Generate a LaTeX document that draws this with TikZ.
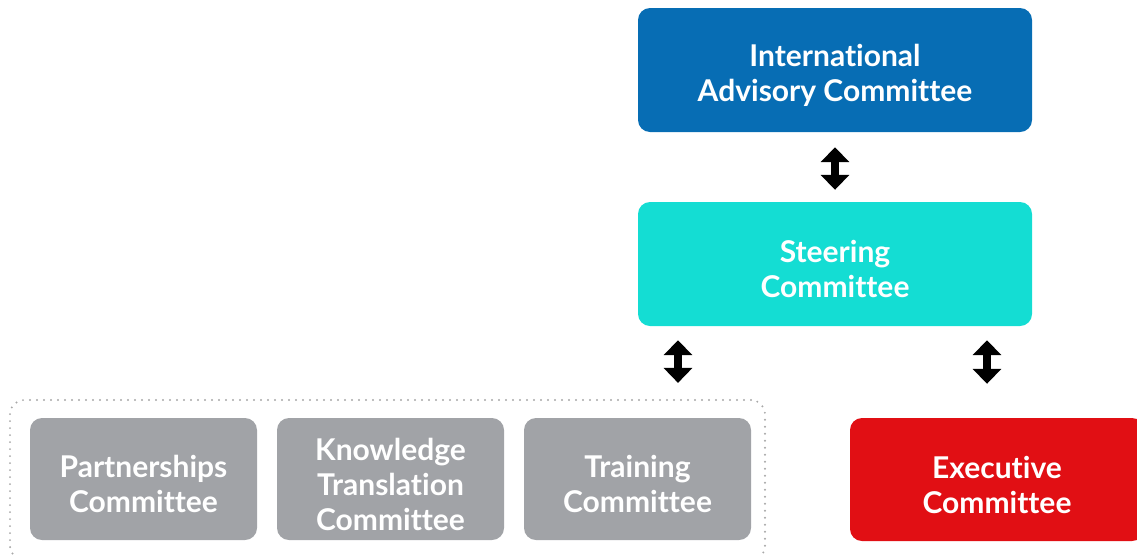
\documentclass[tikz,border=0pt]{standalone}
\usepackage{fontspec}
\setmainfont[Ligatures={NoCommon}]{Lato}
\usetikzlibrary{arrows.meta,calc}
\definecolor{iacblue}{HTML}{076DB4}
\definecolor{steercyan}{HTML}{14DDD3}
\definecolor{comgray}{HTML}{A1A3A7}
\definecolor{execred}{HTML}{E10F14}
\definecolor{dotgray}{HTML}{A8A8A8}
\newcommand{\lowtext}{\rule{0pt}{33pt}}
\tikzset{
  box/.style={rounded corners=12pt, text=white, align=center, inner sep=0pt,
    font=\fontsize{30}{35}\selectfont\bfseries},
  dbl/.style={line width=8pt, {Triangle[width=28pt,length=15pt]}-{Triangle[width=28pt,length=15pt]}},
  grp/.style={draw=dotgray, line width=2.2pt, dash pattern=on 0pt off 7pt, line cap=round, rounded corners=14pt}
}
\begin{document}
\begin{tikzpicture}[x=1pt,y=-1pt]
\useasboundingbox (0,0) rectangle (1137,555);
\node[box, fill=iacblue, minimum width=394pt, minimum height=124pt] (iac) at (835,70) {\lowtext International\\Advisory Committee};
\node[box, fill=steercyan, minimum width=394pt, minimum height=124pt] (steer) at (835,264) {\lowtext Steering\\Committee};
\node[grp, minimum width=755pt, minimum height=160pt] (group) at (387.5,480) {};
\node[box, fill=comgray, minimum width=227pt, minimum height=122pt] (part) at (143.5,479) {\lowtext Partnerships\\Committee};
\node[box, fill=comgray, minimum width=227pt, minimum height=122pt] (know) at (390.5,479) {\lowtext Knowledge\\Translation\\Committee};
\node[box, fill=comgray, minimum width=227pt, minimum height=122pt] (train) at (637.5,479) {\lowtext Training\\Committee};
\node[box, fill=execred, minimum width=294pt, minimum height=123pt] (exec) at (997,479.5) {\lowtext Executive\\Committee};
\coordinate (la) at (678,0);
\coordinate (ra) at (987,0);
\draw[dbl, shorten <=15pt, shorten >=12pt] (iac.south) -- (steer.north);
\draw[dbl, shorten <=14pt, shorten >=16pt] (steer.south -| la) -- (group.north -| la);
\draw[dbl, shorten <=14pt, shorten >=34pt] (steer.south -| ra) -- (exec.north -| ra);
\end{tikzpicture}
\end{document}
